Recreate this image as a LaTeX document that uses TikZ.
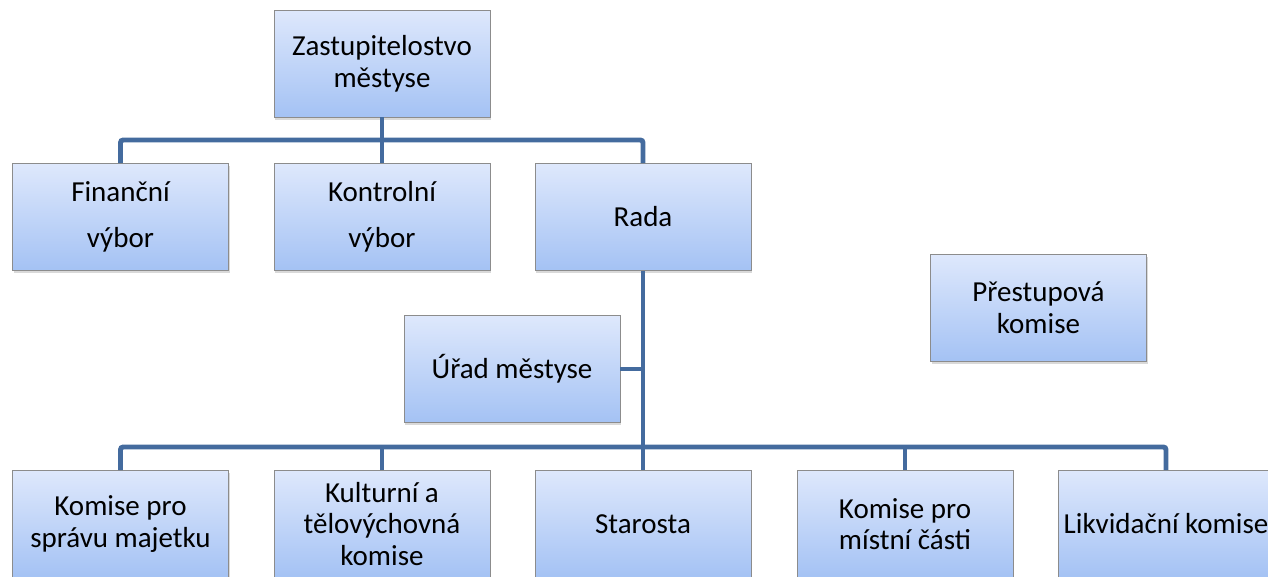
\documentclass[tikz,border=0pt]{standalone}
\usepackage{fontspec}
\setmainfont{Carlito}
\usetikzlibrary{shadows}
\definecolor{boxtop}{RGB}{222,232,252}
\definecolor{boxbot}{RGB}{164,194,244}
\definecolor{boxline}{RGB}{140,140,140}
\definecolor{linkblue}{RGB}{68,107,158}
\begin{document}
\begin{tikzpicture}[x=0.02cm, y=-0.02cm,
  orgbox/.style={draw=boxline, line width=0.5pt, top color=boxtop, bottom color=boxbot,
    minimum width=4.32cm, minimum height=2.14cm, inner sep=2pt, align=center,
    font=\fontsize{16.5}{18}\selectfont,
    drop shadow={opacity=0.3, shadow xshift=0.8pt, shadow yshift=-1.6pt}},
  conn/.style={draw=linkblue, line width=2.8pt, rounded corners=1.5pt}
]
\useasboundingbox (0,0) rectangle (1268,576);
\coordinate (bus1) at (382,140);
\coordinate (bus2) at (643,447);
% boxes
\node[orgbox] (zast) at (382,63.5) {Zastupitelostvo\\městyse};
\node[orgbox] (fin) at (120.5,217) {Finanční\\[8pt]výbor};
\node[orgbox] (kontr) at (382,217) {Kontrolní\\[8pt]výbor};
\node[orgbox] (rada) at (643,217) {Rada};
\node[orgbox] (prest) at (1038.5,308) {Přestupová\\komise};
\node[orgbox] (urad) at (512,369) {Úřad městyse};
\node[orgbox] (majet) at (120.5,524) {Komise pro\\správu majetku};
\node[orgbox] (kult) at (382,524) {Kulturní a\\tělovýchovná\\komise};
\node[orgbox] (star) at (643,524) {Starosta};
\node[orgbox] (mist) at (905,524) {Komise pro\\místní části};
\node[orgbox] (likv) at (1166,524) {Likvidační komise};
% connectors
\draw[conn] (zast.south) -- (kontr.north);
\draw[conn] (fin.north) |- (rada.north |- bus1) -- (rada.north);
\draw[conn] (rada.south) -- (star.north);
\draw[conn] (majet.north) |- (likv.north |- bus2) -- (likv.north);
\draw[conn] (kult.north) -- (kult.north |- bus2);
\draw[conn] (mist.north) -- (mist.north |- bus2);
\draw[conn] (urad.east) -- (urad.east -| rada.south);
\end{tikzpicture}
\end{document}
